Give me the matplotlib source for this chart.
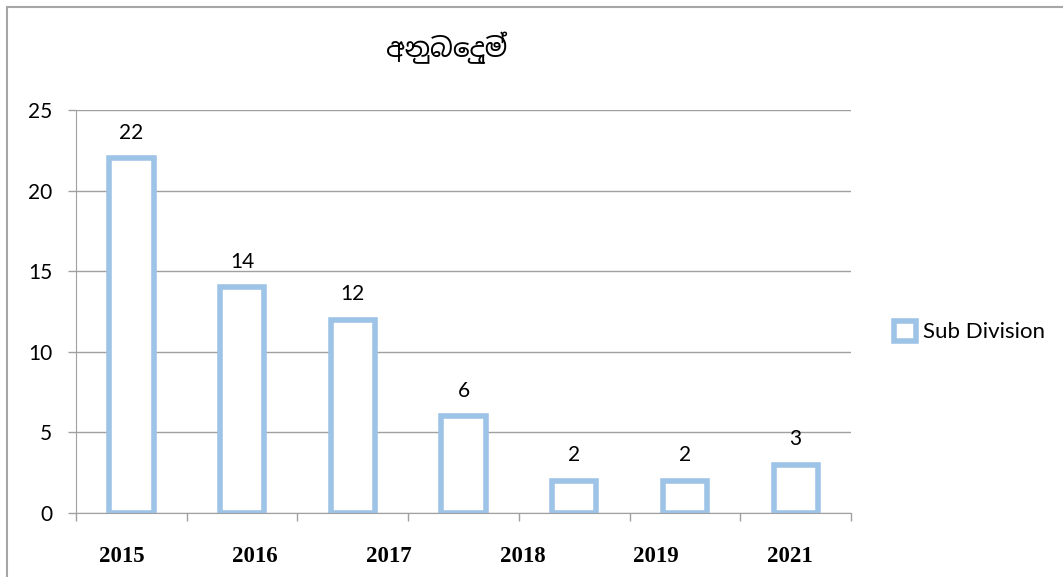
import numpy as np
import matplotlib
matplotlib.use("Agg")
import matplotlib.pyplot as plt
from matplotlib.patches import Rectangle

# chart data
title = "අනුබෙදුම්"
values = [22, 14, 12, 6, 2, 2, 3]
year_labels = ["2015", "2016", "2017", "2018", "2019", "2021"]
series_name = "Sub Division"

blue = "#9dc3e6"
grey = "#a0a0a0"

fig = plt.figure(figsize=(10.63, 5.77), dpi=100)
ax = fig.add_axes([76/1063, 64/577, 775/1063, 403/577])

x = np.arange(len(values))
ax.bar(x, values, width=0.4, color="white", edgecolor=blue,
       linewidth=4, label=series_name)

# value labels above each bar
for xi, v in zip(x, values):
    ax.annotate(str(v), (xi, v), xytext=(0, 14), textcoords="offset points",
                ha="center", va="baseline", fontsize=15, family="Lato")

ax.set_xlim(-0.5, len(values) - 0.5)
ax.set_ylim(0, 25)
ax.set_yticks(range(0, 26, 5))
ax.grid(axis="y", color=grey, linewidth=1)
ax.set_axisbelow(True)

# category boundaries as ticks, year labels spread evenly below
ax.set_xticks(np.arange(-0.5, len(values)))
ax.set_xticklabels([])
ax.set_xticks(np.linspace(-0.09, 5.95, len(year_labels)), labels=year_labels, minor=True)
ax.tick_params(axis="x", which="minor", length=0, pad=24)
ax.tick_params(axis="x", which="major", length=6, color=grey, width=1)
ax.tick_params(axis="y", length=6, color=grey, width=1, pad=11)
for lab in ax.get_xticklabels(minor=True):
    lab.set_fontfamily("Liberation Serif")
    lab.set_fontweight("bold")
    lab.set_fontsize(16.5)
for lab in ax.get_yticklabels():
    lab.set_fontfamily("Lato")
    lab.set_fontsize(15)

for side in ["top", "right"]:
    ax.spines[side].set_visible(False)
for side in ["left", "bottom"]:
    ax.spines[side].set_color(grey)

ax.legend(loc="center left", bbox_to_anchor=(1.03, 0.45), frameon=False,
          handlelength=1.0, handleheight=1.0, handletextpad=0.3,
          prop={"family": "Lato", "size": 16})

fig.text(0.42, 0.918, title, ha="center", va="center", fontsize=19,
         fontweight="bold", family=["Noto Sans Sinhala", "DejaVu Sans"])

# outer chart frame, running off the right and bottom edges
fig.patches.append(Rectangle((7/1063, -0.1), 1.2, (570/577) + 0.1, transform=fig.transFigure,
                             fill=False, edgecolor="#a6a6a6", linewidth=1.5))

fig.savefig("out.png", dpi=100)
